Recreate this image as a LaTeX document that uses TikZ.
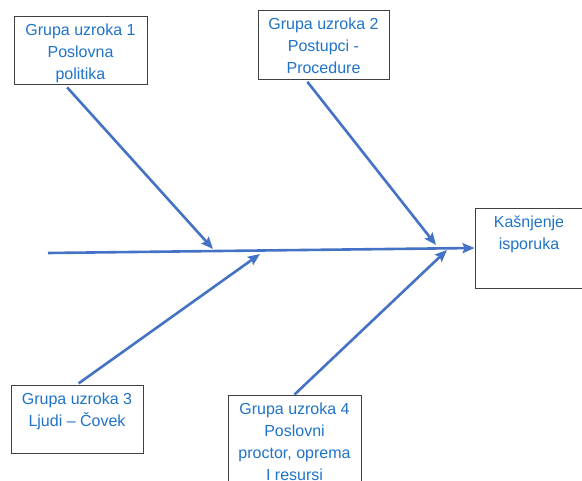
\documentclass[tikz,border=0pt]{standalone}
\usepackage{fontspec}
\setmainfont{Liberation Sans}
\usetikzlibrary{arrows.meta,positioning}
\definecolor{bone}{RGB}{68,114,196}
\definecolor{txtblue}{RGB}{31,115,200}
\definecolor{frame}{RGB}{64,64,64}

\begin{document}
\begin{tikzpicture}[x=1pt,y=-1pt,
        box/.style = {draw=frame, line width=0.9pt, minimum width=133pt, minimum height=68pt, inner sep=0pt},
        txt/.style = {text=txtblue, align=center, anchor=north, inner sep=0pt, yshift=-8pt,
                      font=\fontsize{16}{22}\selectfont},
        arrow/.style = {draw=bone, line width=2.6pt, -{Stealth[length=12pt,width=10pt,inset=2pt]}}
        ]
        \useasboundingbox (0,0) rectangle (582,481);

        \node[box] (c1) at (80.5,50) {};
        \node[box, minimum width=131pt, minimum height=69pt] (c2) at (323.5,44.5) {};
        \node[box, minimum width=132pt] (c3) at (77,419) {};
        \node[box, minimum height=100pt] (c4) at (294.5,445) {};
        \node[box, minimum width=108pt, minimum height=80pt] (eff) at (529,248) {};

        \node[txt] (t1) at (c1.north) {Grupa uzroka 1\\Poslovna\\politika};
        \node[txt] (t2) at (c2.north) {Grupa uzroka 2\\Postupci -\\Procedure};
        \node[txt] (t3) at (c3.north) {Grupa uzroka 3\\Ljudi – Čovek};
        \node[txt] (t4) at (c4.north) {Grupa uzroka 4\\Poslovni\\proctor, oprema\\I resursi};
        \node[txt] (te) at (eff.north) {Kašnjenje\\isporuka};

        % spine and bones
        \coordinate (tail) at (48,253);
        \coordinate (b1) at (213,249);
        \coordinate (b2) at (436,245);
        \coordinate (b3) at (260,254);
        \coordinate (b4) at (447,250);

        \draw[arrow] (tail) -- (eff.west);
        \draw[arrow, shorten <=4pt] ([xshift=-16pt]c1.south) -- (b1);
        \draw[arrow, shorten <=3pt] ([xshift=-18pt]c2.south) -- (b2);
        \draw[arrow, shorten <=2pt] (c3.north) -- (b3);
        \draw[arrow] (c4.north) -- (b4);
    \end{tikzpicture}
\end{document}
